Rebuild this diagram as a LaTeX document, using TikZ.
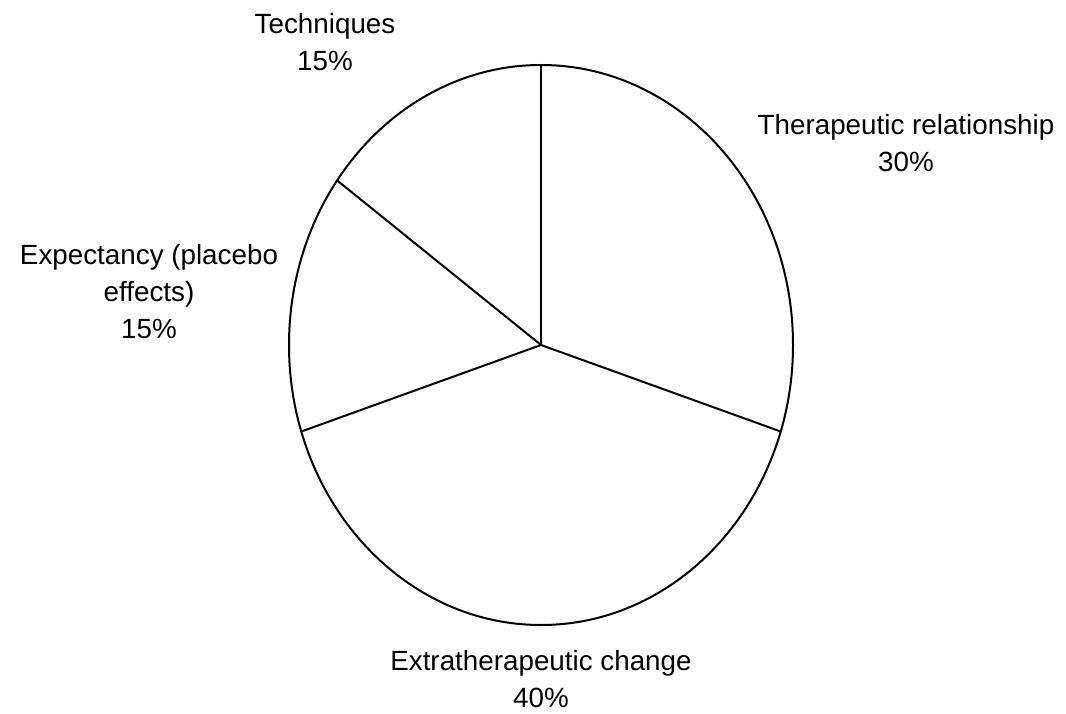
\documentclass[tikz,border=0pt]{standalone}
\usepackage{fontspec}
\setmainfont{Liberation Sans}
\begin{document}
\begin{tikzpicture}[x=1pt,y=-1pt,
  slice/.style={draw=black,line width=2pt},
  lbl/.style={align=center,inner sep=0pt,font=\fontsize{27.8}{37}\selectfont,text=black}]
\useasboundingbox (0,0) rectangle (1066,714);
\coordinate (c) at (541,345);
\draw[slice] (c) ellipse [x radius=252pt, y radius=280pt];
\coordinate (p1) at (541,65);
\coordinate (p2) at (780.7,431.5);
\coordinate (p3) at (301.3,431.5);
\coordinate (p4) at (337.1,180.4);
\draw[slice] (c) -- (p1);
\draw[slice] (c) -- (p2);
\draw[slice] (c) -- (p3);
\draw[slice] (c) -- (p4);
\node[lbl] (tech) at (325,42) {Techniques\\15\%};
\node[lbl] (ther) at (906,143) {Therapeutic relationship\\30\%};
\node[lbl] (expe) at (149,292) {Expectancy (placebo\\effects)\\15\%};
\node[lbl] (extr) at (541,679) {Extratherapeutic change\\40\%};
\end{tikzpicture}
\end{document}
